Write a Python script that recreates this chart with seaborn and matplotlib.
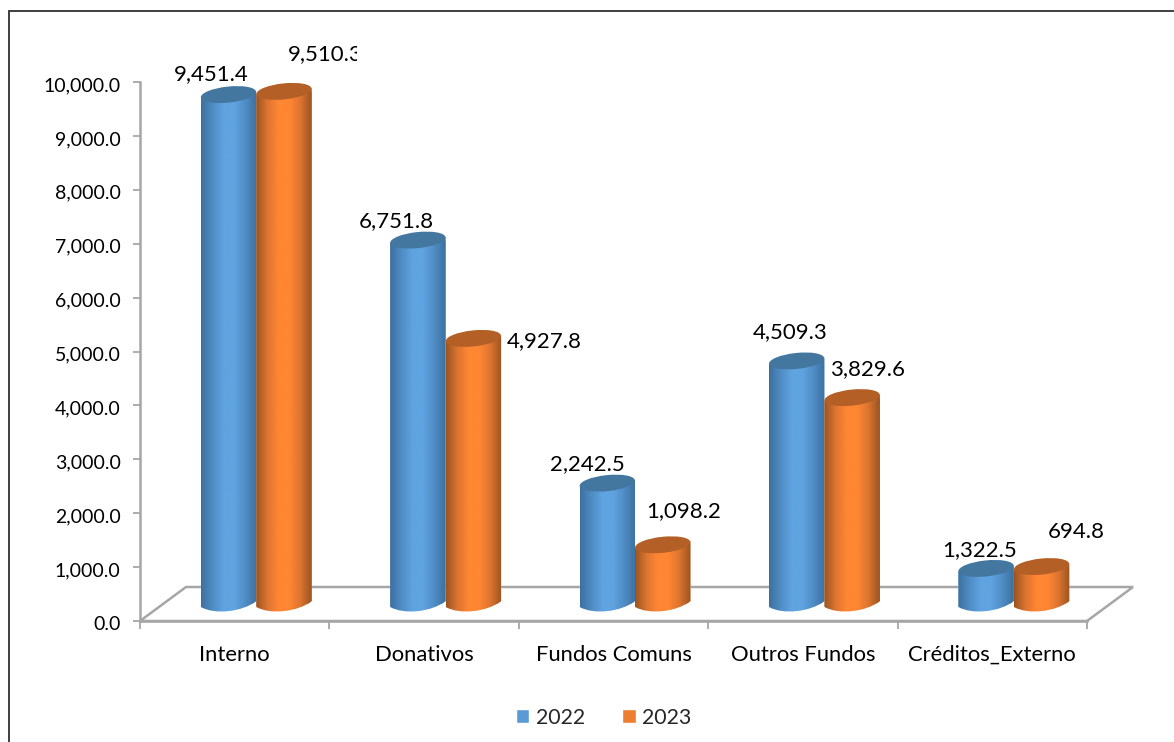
import numpy as np
import pandas as pd
import seaborn as sns
import matplotlib.pyplot as plt
from matplotlib.colors import LinearSegmentedColormap
from matplotlib.patches import Ellipse, PathPatch, Polygon, Rectangle
from matplotlib.path import Path
from matplotlib.ticker import FuncFormatter
from matplotlib.transforms import Affine2D, Bbox, ScaledTranslation

categories = ["Interno", "Donativos", "Fundos Comuns", "Outros Fundos", "Créditos_Externo"]
years = ["2022", "2023"]
values_2022 = [9451.4, 6751.8, 2242.5, 4509.3, 660.0]
values_2023 = [9510.3, 4927.8, 1098.2, 3829.6, 694.8]
labels_2022 = ["9,451.4", "6,751.8", "2,242.5", "4,509.3", "1,322.5"]
labels_2023 = ["9,510.3", "4,927.8", "1,098.2", "3,829.6", "694.8"]
y_ticks = [0, 1000, 2000, 3000, 4000, 5000, 6000, 7000, 8000, 9000, 10000]

# label shift from the top of each cylinder, in pixels
shift_2022 = [(-17, -20), (-22, -19), (-20, -19), (-7, -29), (-6, -18)]
shift_2023 = [(41, -37), (71, 3), (21, -34), (15, -28), (35, -35)]

GREY = "#A6A6A6"
BLUE = "#5B9BD5"
ORANGE = "#ED7D31"

# Pixel size of the depth shift of the 3d look
DEPTH_X, DEPTH_Y = 46, 34
BAR_X, BAR_Y = 21.5, 17

sns.set_style("white")
plt.rcParams["font.family"] = ["Lato", "DejaVu Sans"]
plt.rcParams["font.size"] = 14

df = pd.DataFrame({
    "categoria": categories * 2,
    "ano": [years[0]] * 5 + [years[1]] * 5,
    "valor": values_2022 + values_2023,
})

fig = plt.figure(figsize=(11.74, 7.42), dpi=100)
ax = fig.add_axes([140 / 1174, 1 - 621 / 742, 947 / 1174, 539 / 742])

# Frame around the chart, only top and left fall inside the picture
fig.add_artist(Rectangle((9 / 1174, -0.1), 1.1, 1.1 - 11 / 742, transform=fig.transFigure,
                         fill=False, edgecolor="#303030", linewidth=1.3))

sns.barplot(data=df, x="categoria", y="valor", hue="ano", hue_order=years,
            palette=[BLUE, ORANGE], width=0.586, gap=0, ax=ax, saturation=1, zorder=3)

ax.set_xlim(-0.5, 4.5)
ax.set_ylim(0, 10000)
ax.set_xlabel("")
ax.set_ylabel("")
ax.set_yticks(y_ticks)
ax.yaxis.set_major_formatter(FuncFormatter(lambda v, _: f"{v:,.1f}"))
ax.set_xticks(np.arange(-0.5, 5), minor=True)
ax.tick_params(axis="x", which="major", length=0, pad=17, labelsize=15.8, labelcolor="black")
ax.tick_params(axis="x", which="minor", length=6, width=1.3, color=GREY, bottom=True)
ax.tick_params(axis="y", length=5, width=1.3, color=GREY, pad=9, labelsize=14, labelcolor="black", left=True)
for lab in ax.get_yticklabels():
    lab.set_transform(lab.get_transform() + ScaledTranslation(0, -2 / 100, fig.dpi_scale_trans))
for side in ["top", "right"]:
    ax.spines[side].set_visible(False)
for side in ["left", "bottom"]:
    ax.spines[side].set_color(GREY)
    ax.spines[side].set_linewidth(1.8)

# Floor of the 3d chart, behind the bars
floor = Polygon([(0, 0), (DEPTH_X, DEPTH_Y), (947 + DEPTH_X, DEPTH_Y), (947, 0)], closed=True,
                fill=False, edgecolor=GREY, linewidth=1.8, clip_on=False, zorder=1,
                transform=Affine2D().translate(140, 742 - 621))
ax.add_patch(floor)

sns.move_legend(ax, "center", bbox_to_anchor=(603.5 / 1174, 1 - 717.5 / 742),
                bbox_transform=fig.transFigure, ncol=2, frameon=False, title=None,
                handlelength=0.64, handleheight=0.64, handletextpad=0.3, columnspacing=1.75, fontsize=15.3)

# Overlay in pixels for the cylinders and the value labels
ov = fig.add_axes([0, 0, 1, 1], facecolor="none")
ov.axis("off")

fig.canvas.draw()

blue_cmap = LinearSegmentedColormap.from_list("b", ["#3C70A0", "#4F8CC4", "#5FA3E0", "#5FA3E0", "#4F8CC4", "#3C70A0"])
orange_cmap = LinearSegmentedColormap.from_list("o", ["#9A5420", "#DB7430", "#FF8633", "#FF8633", "#DB7430", "#9A5420"])
top_colors = {0: "#44779F", 1: "#B45F25"}
RX_H = 8.0
TILT = -6


def cylinder(rect, cmap, top_color):
    x0, y0 = rect.get_x(), rect.get_y()
    (px0, base), (px1, top) = ax.transData.transform([(x0, y0), (x0 + rect.get_width(), y0 + rect.get_height())])
    # display y goes up, the overlay y goes down
    base, top = 742 - base - BAR_Y, 742 - top - BAR_Y
    px0, px1 = px0 + BAR_X, px1 + BAR_X
    cx, w = (px0 + px1) / 2, px1 - px0
    grad = np.linspace(0, 1, 128).reshape(1, -1)
    tilt_dy = w / 2 * np.tan(np.radians(6))
    verts = [(px0, top + tilt_dy), (px0, base + tilt_dy),
             (px0 + w * 0.25, base + RX_H + 3), (px0 + w * 0.75, base + RX_H), (px1, base - tilt_dy),
             (px1, top - tilt_dy), (px0, top + tilt_dy)]
    codes = [Path.MOVETO, Path.LINETO, Path.CURVE4, Path.CURVE4, Path.CURVE4, Path.LINETO, Path.CLOSEPOLY]
    body = PathPatch(Path(verts, codes), facecolor="none", edgecolor="none", zorder=4)
    ov.add_patch(body)
    im = ov.imshow(grad, cmap=cmap, extent=(px0, px1, base + RX_H + 4, top - RX_H - 4), aspect="auto", zorder=4)
    im.set_clip_path(body)
    ov.add_patch(Ellipse((cx, top), w, 2 * RX_H, angle=TILT, facecolor=top_color, edgecolor="none", zorder=5))
    # flat seaborn bar stays underneath, cut to the same outline
    rect.set_clip_path(body)
    return cx, top


bars = [b for b in ax.patches if isinstance(b, Rectangle) and b.get_height() > 0]
order = sorted(bars, key=lambda b: b.get_x())
all_labels = [lab for pair in zip(labels_2022, labels_2023) for lab in pair]
all_shifts = [s for pair in zip(shift_2022, shift_2023) for s in pair]

for i, (rect, lab, (dx, dy)) in enumerate(zip(order, all_labels, all_shifts)):
    rect.set_transform(ax.transData + ScaledTranslation(BAR_X / 100, BAR_Y / 100, fig.dpi_scale_trans))
    cmap = blue_cmap if i % 2 == 0 else orange_cmap
    cx, top = cylinder(rect, cmap, top_colors[i % 2])
    txt = ov.text(cx + dx, top + dy, lab, ha="center", va="center", fontsize=16, color="black", zorder=6)
    if lab == "9,510.3":
        # this label is cut off in the original
        txt.set_clip_box(Bbox([[0, 0], [357, 742]]))
        txt.set_clip_on(True)

ov.set_xlim(0, 1174)
ov.set_ylim(742, 0)

fig.savefig("out.png", dpi=100)
